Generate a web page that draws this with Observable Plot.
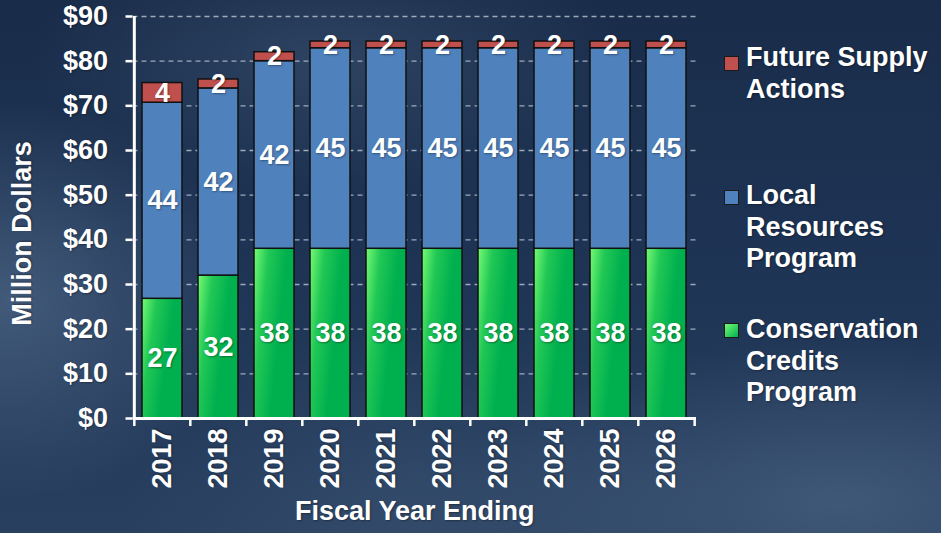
<!DOCTYPE html>
<html>
<head>
<meta charset="utf-8">
<script src="https://cdn.jsdelivr.net/npm/d3@7"></script>
<script src="https://cdn.jsdelivr.net/npm/@observablehq/plot@0.6"></script>
<style>
  html, body { margin: 0; padding: 0; }
  #wrap {
    position: relative; width: 941px; height: 533px; overflow: hidden;
    font-family: "Liberation Sans", Arial, sans-serif; font-weight: bold; color: #fff;
    background:
      radial-gradient(ellipse 240px 200px at 10px 300px, rgba(95,120,150,0.55), rgba(95,120,150,0) 100%),
      radial-gradient(ellipse 380px 160px at 840px 500px, rgba(95,120,150,0.45), rgba(95,120,150,0) 100%),
      radial-gradient(ellipse 300px 130px at 330px 60px, rgba(75,100,130,0.4), rgba(75,100,130,0) 100%),
      radial-gradient(ellipse 300px 180px at 420px 510px, rgba(80,105,135,0.3), rgba(80,105,135,0) 100%),
      linear-gradient(180deg, #192c4a 0%, #1f3556 55%, #283f60 100%);
  }
  #chart { position: absolute; left: 0; top: 0; }
  .leg { position: absolute; left: 746px; font-size: 27px; line-height: 31.5px; white-space: nowrap; text-shadow: 1px 1px 2px rgba(0,0,0,0.35); }
  .sw { position: absolute; left: 724px; width: 13px; height: 13px; border: 1px solid #1a1a1a; }
</style>
</head>
<body>
<div id="wrap">
  <div id="chart"></div>
</div>
<script>
// ---- data ----
const years = ["2017","2018","2019","2020","2021","2022","2023","2024","2025","2026"];
const conservation = [26.8, 32, 38, 38, 38, 38, 38, 38, 38, 38];
const localResources = [43.9, 41.9, 42, 44.9, 44.9, 44.9, 44.9, 44.9, 44.9, 44.9];
const futureSupply = [4.4, 2, 2, 1.5, 1.5, 1.5, 1.5, 1.5, 1.5, 1.5];
const seriesNames = ["Conservation Credits Program", "Local Resources Program", "Future Supply Actions"];
const legendLabels = [["Future Supply", "Actions"], ["Local", "Resources", "Program"], ["Conservation", "Credits", "Program"]];
const yTicks = [0, 10, 20, 30, 40, 50, 60, 70, 80, 90];
const yLabel = "Million Dollars";
const xLabel = "Fiscal Year Ending";

// ---- styles ----
const fills = ["url(#greenGrad)", "#4f81bd", "#c0504d"];
const W = 941, H = 533;
const mL = 132.5, mR = 245, mT = 16, mB = 115;
const step = (W - mL - mR) / years.length;
const pxPerUnit = (H - mT - mB) / 90;
const tickLen = 8 / pxPerUnit;

const table = [];
[conservation, localResources, futureSupply].forEach((arr, i) => {
  arr.forEach((v, j) => table.push({year: years[j], series: seriesNames[i], value: v}));
});

const plot = Plot.plot({
  width: W, height: H,
  marginLeft: mL, marginRight: mR, marginTop: mT, marginBottom: mB,
  style: {background: "transparent", color: "#fff", fontFamily: "'Liberation Sans', Arial, sans-serif",
          fontWeight: "bold", fontSize: "27px", overflow: "visible"},
  x: {domain: years, paddingInner: 0.29, paddingOuter: 0.145, tickSize: 0, tickPadding: 10, tickRotate: -90, label: null},
  y: {domain: [0, 90], ticks: yTicks, tickFormat: d => "$" + d, tickSize: 7, tickPadding: 18, label: null},
  color: {domain: seriesNames, range: fills},
  marks: [
    Plot.ruleY(yTicks.filter(d => d > 0), {stroke: "#b4c0cf", strokeOpacity: 0.85, strokeWidth: 1.4, strokeDasharray: "5,4"}),
    Plot.barY(table, {x: "year", y: "value", fill: "series", stroke: "#111", strokeWidth: 1.5}),
    Plot.text(table, Plot.stackY({x: "year", y: "value", z: "series", text: d => String(Math.round(d.value)),
      fill: "#fff", fontSize: 27, fontWeight: "bold"})),
    Plot.ruleY([0], {stroke: "#fff", strokeWidth: 3}),
    Plot.ruleX([years[0]], {x: d => d, y1: 0, y2: 90, dx: -step / 2, stroke: "#fff", strokeWidth: 3}),
    Plot.ruleX(years, {x: d => d, y1: 0, y2: -tickLen, dx: -step / 2, stroke: "#fff", strokeWidth: 2.5}),
    Plot.ruleX([years[years.length - 1]], {x: d => d, y1: 0, y2: -tickLen, dx: step / 2, stroke: "#fff", strokeWidth: 2.5}),
    Plot.text([xLabel], {text: d => d, frameAnchor: "bottom", lineAnchor: "middle", textAnchor: "middle", dy: 93, fill: "#fff", fontSize: 27, fontWeight: "bold"}),
    Plot.text([yLabel], {text: d => d, frameAnchor: "left", textAnchor: "middle", lineAnchor: "middle", rotate: -90, dx: -111, dy: 16, fill: "#fff", fontSize: 27, fontWeight: "bold"})
  ]
});

// gradient defs for green bars
const svg = plot.tagName.toLowerCase() === "svg" ? plot : plot.querySelector("svg");
const ns = "http://www.w3.org/2000/svg";
const defs = document.createElementNS(ns, "defs");
defs.innerHTML = `<linearGradient id="greenGrad" x1="0" y1="0" x2="0.7" y2="0.3">
  <stop offset="0" stop-color="#74fb74"/>
  <stop offset="0.45" stop-color="#22c855"/>
  <stop offset="1" stop-color="#00b04f"/>
</linearGradient>`;
svg.insertBefore(defs, svg.firstChild);
// axis tick strokes
svg.querySelectorAll('[aria-label^="y-axis"] path, [aria-label^="y-axis"] line').forEach(el => {
  el.setAttribute("stroke-width", "2.5"); el.style.strokeWidth = "2.5px";
});
svg.querySelectorAll('text').forEach(t => t.style.textShadow = "1px 1px 2px rgba(0,0,0,0.35)");
document.getElementById("chart").appendChild(plot);

// legend (HTML, right side)
const wrap = document.getElementById("wrap");
const legendColors = ["#c0504d", "#4f81bd", "linear-gradient(135deg, #74fb74 0%, #00b04f 100%)"];
const swTops = [56, 190, 323];
const txtTops = [42, 180, 314];
legendLabels.forEach((lines, i) => {
  const sw = document.createElement("div");
  sw.className = "sw"; sw.style.top = swTops[i] + "px"; sw.style.background = legendColors[i];
  wrap.appendChild(sw);
  const tx = document.createElement("div");
  tx.className = "leg"; tx.style.top = txtTops[i] + "px";
  tx.innerHTML = lines.join("<br>");
  wrap.appendChild(tx);
});
</script>
</body>
</html>
